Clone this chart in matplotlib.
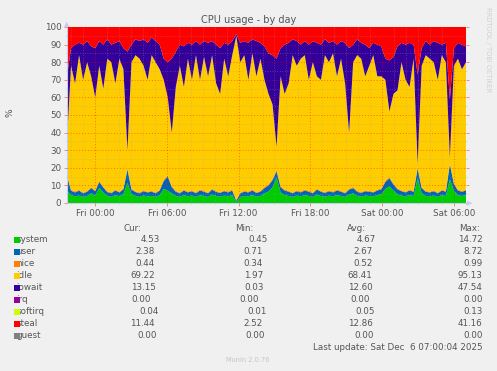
import numpy as np
import pandas as pd
import matplotlib
matplotlib.use("Agg")
import matplotlib.pyplot as plt
import matplotlib.dates as mdates

t_start = "2025-12-04 21:40"
t_end = "2025-12-06 07:00"

system = [7.0, 4.5, 3.8, 4.2, 3.5, 4.0, 5.5, 4.2, 8.5, 6.0,
          4.0, 3.5, 4.5, 3.8, 5.0, 11.5, 5.0, 4.0, 3.5, 4.2,
          3.8, 4.0, 3.5, 4.5, 8.0, 7.0, 5.5, 4.0, 3.5, 4.5,
          3.8, 4.2, 3.5, 4.5, 4.0, 3.5, 4.8, 4.0, 3.6, 4.2,
          3.8, 4.5, 0.5, 3.5, 4.0, 3.8, 4.5, 3.6, 4.0, 5.5,
          6.5, 9.0, 14.5, 6.0, 4.5, 4.0, 3.5, 4.2, 3.8, 4.5,
          4.0, 3.5, 4.8, 4.0, 3.6, 4.2, 3.8, 4.5, 4.0, 3.5,
          4.8, 5.5, 4.0, 3.6, 4.2, 4.0, 3.8, 4.5, 5.0, 8.0,
          9.5, 7.0, 5.0, 4.2, 3.8, 4.5, 4.0, 14.0, 5.5, 4.0,
          3.8, 4.2, 3.5, 4.5, 4.0, 13.5, 7.0, 4.5, 4.0, 4.5]
user = [8.5, 2.5, 2.2, 2.8, 2.0, 2.4, 3.0, 2.5, 3.5, 2.8,
        2.2, 2.0, 2.6, 2.2, 2.8, 7.5, 2.6, 2.2, 2.0, 2.5,
        2.2, 2.4, 2.0, 2.6, 4.5, 8.0, 3.5, 2.4, 2.0, 2.6,
        2.2, 2.5, 2.0, 2.6, 2.4, 2.0, 2.8, 2.3, 2.1, 2.5,
        2.2, 2.6, 0.8, 2.0, 2.4, 2.2, 2.6, 2.1, 2.4, 3.0,
        3.5, 4.0, 3.5, 3.0, 2.6, 2.4, 2.0, 2.5, 2.2, 2.6,
        2.4, 2.0, 2.8, 2.4, 2.1, 2.5, 2.2, 2.6, 2.4, 2.0,
        2.8, 3.0, 2.4, 2.1, 2.5, 2.4, 2.2, 2.6, 2.8, 4.0,
        4.5, 3.5, 2.8, 2.5, 2.2, 2.6, 2.4, 5.5, 3.0, 2.4,
        2.2, 2.5, 2.0, 2.6, 2.4, 8.5, 3.8, 2.6, 2.4, 2.6]
nice = [0.5, 0.4, 0.6, 0.5, 0.4, 0.5, 0.6, 0.5, 0.7, 0.5,
        0.4, 0.5, 0.5, 0.4, 0.6, 0.9, 0.5, 0.4, 0.5, 0.5,
        0.4, 0.5, 0.4, 0.5, 0.7, 0.8, 0.6, 0.5, 0.4, 0.5,
        0.5, 0.4, 0.5, 0.6, 0.5, 0.4, 0.5, 0.5, 0.4, 0.5,
        0.5, 0.6, 0.4, 0.4, 0.5, 0.5, 0.6, 0.4, 0.5, 0.6,
        0.6, 0.7, 0.9, 0.6, 0.5, 0.5, 0.4, 0.5, 0.5, 0.6,
        0.5, 0.4, 0.5, 0.5, 0.4, 0.5, 0.5, 0.6, 0.5, 0.4,
        0.5, 0.6, 0.5, 0.4, 0.5, 0.5, 0.4, 0.5, 0.6, 0.7,
        0.8, 0.6, 0.5, 0.5, 0.4, 0.5, 0.5, 0.9, 0.6, 0.5,
        0.4, 0.5, 0.4, 0.5, 0.5, 0.9, 0.6, 0.5, 0.4, 0.5]
idle = [19.0, 70.6, 61.4, 76.5, 64.1, 73.1, 62.9, 52.8, 65.3, 55.7,
        75.4, 74.0, 60.4, 75.6, 67.6, 10.1, 71.9, 77.4, 76.0, 70.8,
        63.6, 77.1, 74.1, 68.4, 56.8, 44.2, 30.4, 59.1, 72.1, 58.4,
        75.5, 62.9, 78.0, 62.3, 76.1, 66.1, 75.9, 61.2, 55.9, 74.8,
        65.5, 76.3, 93.3, 74.1, 77.1, 63.5, 77.3, 65.9, 75.1, 60.9,
        51.4, 42.3, 13.1, 62.4, 54.4, 61.1, 78.1, 70.8, 75.5, 76.3,
        63.1, 74.1, 63.9, 63.1, 77.9, 72.8, 78.5, 64.3, 75.1, 62.1,
        31.9, 70.9, 77.1, 75.9, 64.8, 71.1, 77.6, 64.4, 63.6, 57.3,
        37.2, 50.9, 55.7, 72.8, 63.6, 58.4, 75.1, 2.0, 68.9, 77.1,
        75.6, 72.8, 64.1, 76.4, 73.1, 3.1, 66.6, 74.4, 69.2, 72.4]
iowait = [37, 10, 22, 7, 20, 12, 17, 28, 14, 25,
          11, 10, 23, 10, 12, 56, 10, 9, 10, 15,
          21, 10, 12, 14, 12, 20, 42, 20, 12, 23,
          9, 20, 8, 20, 9, 19, 8, 22, 26, 9,
          18, 8, 1, 11, 8, 21, 8, 20, 9, 19,
          23, 28, 50, 16, 28, 23, 9, 14, 8, 8,
          20, 12, 19, 20, 9, 11, 7, 18, 10, 23,
          48, 10, 9, 9, 18, 10, 7, 18, 17, 12,
          29, 21, 25, 11, 20, 25, 8, 50.6, 10, 8,
          8, 12, 21, 6, 11, 33, 10, 9, 14, 9]
steal = [28, 12, 10, 9, 10, 8, 11, 12, 8, 10,
         7, 10, 9, 8, 12, 14, 10, 7, 8, 7,
         9, 6, 8, 10, 18, 20, 18, 14, 10, 11,
         9, 10, 8, 10, 8, 9, 8, 10, 12, 9,
         10, 8, 4, 9, 8, 9, 7, 8, 9, 11,
         15, 16, 18, 12, 10, 9, 7, 8, 10, 8,
         10, 8, 9, 10, 7, 9, 8, 10, 8, 9,
         12, 10, 7, 9, 10, 12, 9, 10, 11, 18,
         19, 17, 11, 9, 10, 9, 10, 27, 12, 8,
         10, 8, 9, 10, 9, 41, 12, 9, 10, 11]

# legend table (as printed under the graph)
names = ["system", "user", "nice", "idle", "iowait", "irq", "softirq", "steal", "guest"]
colors = ["#00CC00", "#0066B3", "#FF8000", "#FFCC00", "#330099",
          "#990099", "#CCFF00", "#FF0000", "#808080"]
cur = ["4.53", "2.38", "0.44", "69.22", "13.15", "0.00", "0.04", "11.44", "0.00"]
vmin = ["0.45", "0.71", "0.34", "1.97", "0.03", "0.00", "0.01", "2.52", "0.00"]
avg = ["4.67", "2.67", "0.52", "68.41", "12.60", "0.00", "0.05", "12.86", "0.00"]
vmax = ["14.72", "8.72", "0.99", "95.13", "47.54", "0.00", "0.13", "41.16", "0.00"]

W, H = 497, 371
BG = "#F0F0F0"
TXT = "#555555"


def fx(x):
    return x / W


def fy(y):
    return 1 - y / H


fig = plt.figure(figsize=(W / 100, H / 100), dpi=100, facecolor=BG)
ax = fig.add_axes([fx(67), fy(203), (466 - 67) / W, (203 - 27) / H])
ax.set_facecolor(BG)

times = pd.date_range(t_start, t_end, periods=len(system))
ax.stackplot(times, system, user, nice, idle, iowait, steal,
             colors=["#00CC00", "#0066B3", "#FF8000", "#FFCC00", "#330099", "#FF0000"],
             linewidth=0, zorder=1)

ax.set_xlim(pd.Timestamp(t_start), pd.Timestamp(t_end))
ax.set_ylim(0, 100)

ax.xaxis.set_major_locator(mdates.HourLocator(byhour=[0, 6, 12, 18]))
ax.xaxis.set_minor_locator(mdates.HourLocator())
ax.xaxis.set_major_formatter(mdates.DateFormatter("%a %H:%M"))
ax.yaxis.set_major_locator(plt.MultipleLocator(10))
ax.yaxis.set_minor_locator(plt.MultipleLocator(5))

ax.set_axisbelow(False)
ax.grid(which="major", color="#FF0000", alpha=0.45, linestyle=(0, (1, 2)), linewidth=0.7)
ax.grid(which="minor", color="#A0A0A0", alpha=0.45, linestyle=(0, (1, 2)), linewidth=0.6)

ax.tick_params(which="major", length=2, width=0.6, color="#E08080", labelsize=6.3,
               labelcolor=TXT, pad=2)
ax.tick_params(which="minor", length=1, width=0.5, color="#C0C0C0")
ax.tick_params(axis="y", right=True, which="both")

for s in ["top", "right"]:
    ax.spines[s].set_visible(False)
for s in ["left", "bottom"]:
    ax.spines[s].set_color("#C8CCF0")
    ax.spines[s].set_linewidth(0.8)

# axis arrow heads, munin style
fig.text(fx(67), fy(24), "\u25B2", color="#C8CCF0", fontsize=5, ha="center", va="center")
fig.text(fx(470), fy(203), "\u25B6", color="#C8CCF0", fontsize=5, ha="center", va="center")

fig.text(fx(248.5), fy(20), "CPU usage - by day", color=TXT, fontsize=7, ha="center", va="center")
fig.text(fx(10), fy(113), "%", color=TXT, fontsize=6.5, rotation=90, ha="center", va="center")
fig.text(fx(488), fy(50), "RRDTOOL / TOBI OETIKER", color="#D0D0D0", fontsize=4.8,
         rotation=270, ha="center", va="center")

# legend table
fig.text(fx(141), fy(228.5), "Cur:", color=TXT, fontsize=6.3, ha="right", va="center")
fig.text(fx(253), fy(228.5), "Min:", color=TXT, fontsize=6.3, ha="right", va="center")
fig.text(fx(366), fy(228.5), "Avg:", color=TXT, fontsize=6.3, ha="right", va="center")
fig.text(fx(480), fy(228.5), "Max:", color=TXT, fontsize=6.3, ha="right", va="center")

nudge = [5, 0, 0, 0, 1, -4, 4, 0, 2]
for i, name in enumerate(names):
    y = 239.7 + 12 * i
    fig.text(fx(16.5), fy(y), name, color=TXT, fontsize=6.3, ha="left", va="center")
    fig.patches.append(plt.Rectangle((fx(14), fy(y + 2.8)), 5.5 / W, 5.5 / H,
                                     transform=fig.transFigure, facecolor=colors[i],
                                     edgecolor="none", zorder=5))
    fig.text(fx(155 + nudge[i]), fy(y), cur[i], color=TXT, fontsize=6.3, ha="right", va="center")
    fig.text(fx(263 + nudge[i]), fy(y), vmin[i], color=TXT, fontsize=6.3, ha="right", va="center")
    fig.text(fx(372.5 + nudge[i] * 0.6), fy(y), avg[i], color=TXT, fontsize=6.3, ha="right", va="center")
    fig.text(fx(482.7), fy(y), vmax[i], color=TXT, fontsize=6.3, ha="right", va="center")

fig.text(fx(482.7), fy(347.7), "Last update: Sat Dec  6 07:00:04 2025", color=TXT,
         fontsize=6.3, ha="right", va="center")
fig.text(fx(248), fy(360), "Munin 2.0.76", color="#C4C4C4", fontsize=4.8, ha="center", va="center")

fig.savefig("out.png", dpi=100, facecolor=BG)
